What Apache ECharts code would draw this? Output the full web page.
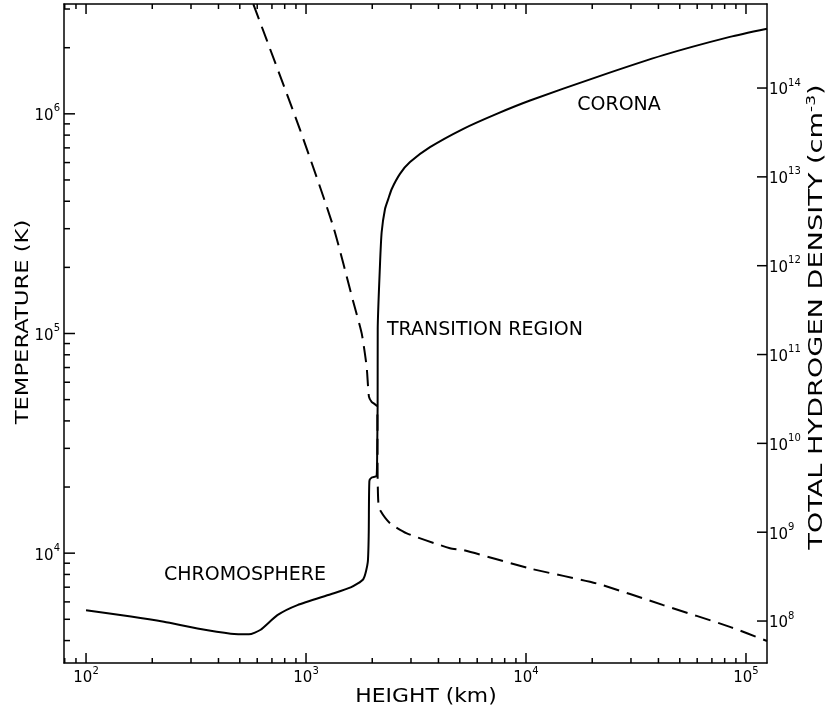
<!DOCTYPE html>
<html><head><meta charset="utf-8">
<script src="https://cdn.jsdelivr.net/npm/echarts@6/dist/echarts.min.js"></script>
<style>html,body{margin:0;padding:0;background:#fff}#c{width:827px;height:708px}</style>
</head><body><div id="c"></div>
<script>
// ---- data ----
const heightTemp = [100,160,226,321,455,550,622,741,914,1295,1596,1822,1908,1928,1941,1989,2094,2107,2116,2118,2168,2207,2286,2366,2453,2673,2970,3660,5190,7360,10430,20950,42100,84500,124600];
const temperature = [5500,5150,4870,4540,4300,4270,4480,5220,5800,6500,6980,7620,9070,12400,21300,22100,22500,30800,46900,104700,203700,289000,369000,410000,455000,533000,603000,705000,855000,1000000,1150000,1470000,1850000,2240000,2440000];
const heightDens = [576,662,939,1330,1641,1791,1886,1932,1987,2107,2116,2131,2168,2410,2871,4513,5190,10430,20950,42100,84500,124600];
const density = [8.8e14,3.5e14,3.4e13,2.75e12,3.9e11,1.73e11,7.3e10,3.35e10,2.94e10,2.58e10,4.2e9,2.2e9,1.78e9,1.26e9,9.7e8,6.6e8,6.3e8,3.9e8,2.65e8,1.51e8,8.6e7,5.96e7];
// tick label exponents
const heightTickExp = [2,3,4,5];
const tempTickExp = [4,5,6];
const densTickExp = [8,9,10,11,12,13,14];
// axis ranges (real units)
const heightRange = [79.4, 124600];
const tempRange = [3162, 3162278];
const densRange = [3.37e7, 8.83e14];
// texts
const xTitle = 'HEIGHT (km)';
const yTitle = 'TEMPERATURE (K)';
const y2Title = 'TOTAL HYDROGEN DENSITY (cm{s|-3})';
const regionLabels = ['CHROMOSPHERE', 'TRANSITION REGION', 'CORONA'];

const L = Math.log10;
const F = 'DejaVu Sans';
function minorTicks(lo, hi) {
  const out = [];
  for (let d = Math.floor(lo) - 1; d <= Math.ceil(hi); d++) {
    for (let k = 2; k <= 9; k++) {
      const v = d + L(k);
      if (v >= lo && v <= hi) out.push(v);
    }
  }
  return out;
}
const rich = {
  b: {fontSize: 15, fontFamily: F, color: '#000', lineHeight: 20, verticalAlign: 'bottom'},
  s: {fontSize: 10, fontFamily: F, color: '#000', lineHeight: 20, verticalAlign: 'top'}
};
const fmt = v => '{b|10}{s|' + Math.round(v) + '}';
const axLine = {show: true, onZero: false, lineStyle: {color: '#000', width: 1.5}};
const xr = [L(heightRange[0]), L(heightRange[1])];
const tr = [L(tempRange[0]), L(tempRange[1])];
const nr = [L(densRange[0]), L(densRange[1])];

function ax(pos, range, labelVals, margin) {
  return {type: 'value', position: pos, min: range[0], max: range[1], splitLine: {show: false},
    axisLine: axLine, axisTick: {show: false},
    axisLabel: labelVals ? {show: true, customValues: labelVals, formatter: fmt, rich: rich, margin: margin} : {show: false}};
}
// tick marks drawn through the axes' own scales
function tickSeries(side, yIdx, values, len) {
  const yr = yIdx === 0 ? tr : nr;
  return {
    type: 'custom', xAxisIndex: 0, yAxisIndex: yIdx,
    data: values.map(v => side === 'bottom' ? [v, yr[0]] : side === 'top' ? [v, yr[1]] : side === 'left' ? [xr[0], v] : [xr[1], v]),
    renderItem: (params, api) => {
      const p = api.coord([api.value(0), api.value(1)]);
      let shape;
      if (side === 'bottom') shape = {x1: p[0], y1: p[1], x2: p[0], y2: p[1] - len};
      else if (side === 'top') shape = {x1: p[0], y1: p[1], x2: p[0], y2: p[1] + len};
      else if (side === 'left') shape = {x1: p[0], y1: p[1], x2: p[0] + len, y2: p[1]};
      else shape = {x1: p[0], y1: p[1], x2: p[0] - len, y2: p[1]};
      return {type: 'line', shape: shape, style: {stroke: '#000', lineWidth: 1.5}};
    }
  };
}
const texts = [
  {text: yTitle, x: 23, y: 322, rot: Math.PI / 2, sx: 1.26, size: 18},
  {text: xTitle, x: 426, y: 697, sx: 1.15, size: 19},
  {text: y2Title, x: 817, y: 317, rot: Math.PI / 2, sx: 1.43, size: 19,
   rich: {s: {fontSize: 12, fontFamily: F, fill: '#000', verticalAlign: 'top', lineHeight: 22}}},
  {text: regionLabels[0], x: 245, y: 575, size: 19},
  {text: regionLabels[1], x: 387, y: 330, size: 19, align: 'left'},
  {text: regionLabels[2], x: 619, y: 105, size: 19}
];

const chart = echarts.init(document.getElementById('c'));
chart.setOption({
  animation: false,
  grid: {left: 64, right: 60, top: 4, bottom: 45},
  xAxis: [ax('bottom', xr, heightTickExp, 3), ax('top', xr, null, 0)],
  yAxis: [ax('left', tr, tempTickExp, 4), ax('right', nr, densTickExp, 2)],
  series: [
    {type: 'custom', xAxisIndex: 0, yAxisIndex: 0, data: [[xr[0], tr[0]]],
     renderItem: () => ({type: 'group', children: texts.map(t => ({
       type: 'text', x: t.x, y: t.y, rotation: t.rot || 0, scaleX: t.sx || 1,
       style: {text: t.text, font: t.size + 'px "DejaVu Sans"', fill: '#000', align: t.align || 'center', verticalAlign: 'middle', rich: t.rich}
     }))})},
    {type: 'line', xAxisIndex: 0, yAxisIndex: 0, showSymbol: false, symbol: 'none', clip: true, smooth: 0.2,
     lineStyle: {color: '#000', width: 2}, data: heightTemp.map((h, i) => [L(h), L(temperature[i])])},
    {type: 'line', xAxisIndex: 0, yAxisIndex: 1, showSymbol: false, symbol: 'none', clip: true, smooth: 0.2,
     lineStyle: {color: '#000', width: 2, type: [16, 8]}, data: heightDens.map((h, i) => [L(h), L(density[i])])},
    tickSeries('bottom', 0, heightTickExp, 10),
    tickSeries('bottom', 0, minorTicks(xr[0], xr[1]), 5),
    tickSeries('top', 0, heightTickExp, 10),
    tickSeries('top', 0, minorTicks(xr[0], xr[1]), 5),
    tickSeries('left', 0, tempTickExp, 11),
    tickSeries('left', 0, minorTicks(tr[0], tr[1]), 6),
    tickSeries('right', 1, densTickExp, 10)
  ]
});
</script>
</body></html>
